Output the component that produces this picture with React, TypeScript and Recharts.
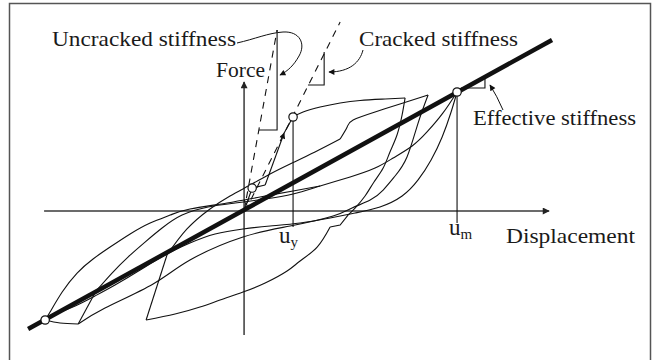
import { ComposedChart, Line, Scatter, XAxis, YAxis } from "recharts";

type Pt = [number, number];

// Displacement is normalised by u_m, force by the force reached at u_m.
const X_DOMAIN: [number, number] = [-1.146, 1.92];
const Y_DOMAIN: [number, number] = [-1.252, 1.773];

const forceAxis: Pt[] = [[0, -1.042], [0, 1.084]];
const displacementAxis: Pt[] = [[-0.939, 0], [1.432, 0]];

// first cycle: origin -> cracking -> yield
const toCracking: Pt[] = [[0, 0], [0.038, 0.193], [0.099, 0.218]];
const toYieldArrow: Pt[] = [[0.099, 0.218], [0.188, 0.655]];
const toYield: Pt[] = [[0.188, 0.655], [0.23, 0.79]];
const backToOrigin: Pt[] = [[0.014, 0.118], [0.008, 0.055]];

// yield -> first positive peak
const loadP1: Pt[] = [
  [0.23, 0.79], [0.277, 0.832], [0.357, 0.874], [0.451, 0.908],
  [0.545, 0.929], [0.662, 0.941], [0.756, 0.95],
];

// first positive peak -> first negative peak
const unloadP1a: Pt[] = [
  [0.756, 0.95], [0.742, 0.807], [0.718, 0.639], [0.685, 0.496], [0.653, 0.361],
  [0.61, 0.244], [0.568, 0.126], [0.521, 0.025], [0.488, -0.034],
];
const unloadP1b: Pt[] = [[0.488, -0.034], [0.451, -0.118], [0.404, -0.134]];
const unloadP1c: Pt[] = [
  [0.404, -0.134], [0.343, -0.303], [0.263, -0.42], [0.202, -0.504], [0.099, -0.605],
  [-0.005, -0.681], [-0.113, -0.748], [-0.207, -0.807], [-0.324, -0.866], [-0.46, -0.916],
];

// first negative peak -> second positive peak
const reloadN1a: Pt[] = [[-0.46, -0.916], [-0.362, -0.37]];
const reloadN1b: Pt[] = [
  [-0.362, -0.37], [-0.268, -0.151], [-0.16, 0.017], [-0.066, 0.126], [0.028, 0.218],
  [0.122, 0.311], [0.216, 0.395], [0.333, 0.496], [0.451, 0.605],
];
const reloadN1c: Pt[] = [
  [0.451, 0.605], [0.484, 0.706], [0.512, 0.765], [0.615, 0.832], [0.732, 0.899], [0.864, 0.975],
];

// second positive peak -> second negative peak
const unloadP2: Pt[] = [
  [0.864, 0.975], [0.817, 0.739], [0.765, 0.454], [0.709, 0.294], [0.653, 0.176],
  [0.592, 0.092], [0.507, 0.025], [0.418, -0.042], [0.216, -0.126], [-0.005, -0.218],
  [-0.254, -0.412], [-0.427, -0.613], [-0.653, -0.815], [-0.779, -0.95],
];

// second negative peak -> maximum displacement u_m
const reloadN2a: Pt[] = [[-0.779, -0.95], [-0.695, -0.672]];
const reloadN2b: Pt[] = [
  [-0.695, -0.672], [-0.62, -0.521], [-0.545, -0.387], [-0.465, -0.261], [-0.385, -0.143],
  [-0.291, -0.034], [-0.169, 0.034], [-0.042, 0.067], [0.099, 0.101], [0.23, 0.143],
  [0.357, 0.21], [0.498, 0.286], [0.615, 0.361], [0.7, 0.445], [0.789, 0.546],
  [0.859, 0.664], [0.934, 0.824], [1, 1],
];

// u_m -> minimum displacement
const unloadP3: Pt[] = [
  [1, 1], [0.972, 0.832], [0.93, 0.622], [0.878, 0.429], [0.817, 0.261], [0.742, 0.126],
  [0.638, 0.034], [0.521, -0.017], [0.404, -0.059], [0.263, -0.101], [0.122, -0.126],
  [-0.005, -0.151], [-0.136, -0.193], [-0.254, -0.269], [-0.371, -0.37], [-0.488, -0.496],
  [-0.606, -0.622], [-0.7, -0.714], [-0.793, -0.798], [-0.873, -0.857], [-0.934, -0.916],
];
const troughN3N2: Pt[] = [[-0.934, -0.916], [-0.864, -0.941], [-0.779, -0.95]];

// last reloading branch from the minimum
const reloadN3: Pt[] = [
  [-0.934, -0.916], [-0.911, -0.849], [-0.854, -0.681], [-0.784, -0.521], [-0.709, -0.403],
  [-0.629, -0.303], [-0.535, -0.193], [-0.441, -0.101], [-0.347, -0.034], [-0.254, 0.017],
  [-0.08, 0.067], [0.075, 0.118], [0.23, 0.168], [0.357, 0.21],
];

// stiffness lines and their slope triangles
const effectiveStiffness: Pt[] = [[-1.014, -0.992], [1.446, 1.437]];
const uncrackedStiffness: Pt[] = [[0, 0], [0.155, 1.521]];
const uncrackedTriangle: Pt[] = [[0.155, 1.521], [0.155, 0.681], [0.07, 0.681]];
const crackedStiffness: Pt[] = [[0.005, 0], [0.451, 1.588]];
const crackedTriangle: Pt[] = [[0.376, 1.336], [0.376, 1.059], [0.3, 1.059]];
const effectiveTriangle: Pt[] = [[1.019, 1.034], [1.131, 1.034], [1.131, 1.126]];

const yieldDrop: Pt[] = [[0.23, 0.79], [0.23, -0.134]];
const peakDrop: Pt[] = [[1, 1], [1, -0.101]];

const markedPoints: Pt[] = [[0.038, 0.193], [0.23, 0.79], [1, 1], [-0.934, -0.916]];

const toRows = (pts: Pt[]) => pts.map(([x, y]) => ({ x, y }));

type Series = {
  id: string;
  pts: Pt[];
  curve?: "linear" | "natural";
  width?: number;
  dash?: string;
  color?: string;
  marker?: string;
};

const series: Series[] = [
  { id: "uncracked", pts: uncrackedStiffness, dash: "7 6" },
  { id: "cracked", pts: crackedStiffness, dash: "7 6" },
  { id: "uncrackedTri", pts: uncrackedTriangle },
  { id: "crackedTri", pts: crackedTriangle },
  { id: "effectiveTri", pts: effectiveTriangle },
  { id: "forceAxis", pts: forceAxis, color: "#3a3a3a", width: 1.5, marker: "url(#axisHead)" },
  { id: "dispAxis", pts: displacementAxis, color: "#3a3a3a", width: 1.5, marker: "url(#axisHead)" },
  { id: "yieldDrop", pts: yieldDrop },
  { id: "peakDrop", pts: peakDrop },
  { id: "toCracking", pts: toCracking },
  { id: "toYieldArrow", pts: toYieldArrow, marker: "url(#pathHead)" },
  { id: "toYield", pts: toYield },
  { id: "backToOrigin", pts: backToOrigin, color: "none", marker: "url(#openHead)" },
  { id: "loadP1", pts: loadP1, curve: "natural" },
  { id: "unloadP1a", pts: unloadP1a, curve: "natural" },
  { id: "unloadP1b", pts: unloadP1b },
  { id: "unloadP1c", pts: unloadP1c, curve: "natural" },
  { id: "reloadN1a", pts: reloadN1a },
  { id: "reloadN1b", pts: reloadN1b, curve: "natural" },
  { id: "reloadN1c", pts: reloadN1c, curve: "natural" },
  { id: "unloadP2", pts: unloadP2, curve: "natural" },
  { id: "reloadN2a", pts: reloadN2a },
  { id: "reloadN2b", pts: reloadN2b, curve: "natural" },
  { id: "unloadP3", pts: unloadP3, curve: "natural" },
  { id: "troughN3N2", pts: troughN3N2, curve: "natural" },
  { id: "reloadN3", pts: reloadN3, curve: "natural" },
  { id: "effective", pts: effectiveStiffness, width: 4.5 },
];

const SERIF = "Liberation Serif";

const OpenCircle = (p: any) => (
  <circle cx={p.cx} cy={p.cy} r={4.2} fill="#fff" stroke="#111" strokeWidth={1.2} />
);

function Caption({ x, y, w, children }: { x: number; y: number; w: number; children: string }) {
  return (
    <text x={x} y={y} textLength={w} lengthAdjust="spacingAndGlyphs"
      fontFamily={SERIF} fontSize={21} fill="#1a1a1a">
      {children}
    </text>
  );
}

export default function App() {
  return (
    <div style={{ position: "absolute", left: 0, top: 0, width: 653, height: 360, background: "#fff" }}>
      <ComposedChart width={653} height={360} margin={{ top: 0, right: 0, bottom: 0, left: 0 }}>
        <XAxis type="number" dataKey="x" domain={X_DOMAIN} allowDataOverflow hide />
        <YAxis type="number" dataKey="y" domain={Y_DOMAIN} allowDataOverflow hide />
        {series.map((s) => (
          <Line
            key={s.id}
            data={toRows(s.pts)}
            dataKey="y"
            type={s.curve ?? "linear"}
            stroke={s.color ?? "#111"}
            strokeWidth={s.width ?? 1.1}
            strokeDasharray={s.dash}
            markerEnd={s.marker}
            dot={false}
            activeDot={false}
            isAnimationActive={false}
          />
        ))}
        <Scatter data={toRows(markedPoints)} dataKey="y" shape={OpenCircle} isAnimationActive={false} />
      </ComposedChart>

      <svg
        width={653}
        height={360}
        style={{ position: "absolute", left: 0, top: 0, pointerEvents: "none" }}
      >
        <defs>
          <marker id="axisHead" viewBox="0 0 10 10" refX="9" refY="5" markerWidth="10" markerHeight="7"
            markerUnits="userSpaceOnUse" orient="auto">
            <path d="M0,0 L10,5 L0,10 z" fill="#222" />
          </marker>
          <marker id="pathHead" viewBox="0 0 10 10" refX="9" refY="5" markerWidth="10" markerHeight="6"
            markerUnits="userSpaceOnUse" orient="auto">
            <path d="M0,0 L10,5 L0,10 z" fill="#111" />
          </marker>
          <marker id="noteHead" viewBox="0 0 10 10" refX="9" refY="5" markerWidth="9" markerHeight="6"
            markerUnits="userSpaceOnUse" orient="auto">
            <path d="M0,0 L10,5 L0,10 z" fill="#111" />
          </marker>
          <marker id="openHead" viewBox="0 0 10 10" refX="9" refY="5" markerWidth="6" markerHeight="6"
            markerUnits="userSpaceOnUse" orient="auto">
            <path d="M1,1 L9,5 L1,9" fill="none" stroke="#111" strokeWidth={1.5} />
          </marker>
        </defs>

        <rect x={9.5} y={3.5} width={641} height={370} fill="none" stroke="#555" strokeWidth={1.5} />

        <path d="M237,43 C255,39 268,33 283,32 C300,31 306,44 299,56 C294,65 288,71 280,75"
          fill="none" stroke="#111" strokeWidth={1} markerEnd="url(#noteHead)" />
        <path d="M363,50 C360,62 350,72 329,72" fill="none" stroke="#111" strokeWidth={1}
          markerEnd="url(#noteHead)" />
        <path d="M503,110 Q497,96 490,85" fill="none" stroke="#111" strokeWidth={1}
          markerEnd="url(#noteHead)" />

        <Caption x={52} y={46} w={184}>Uncracked stiffness</Caption>
        <Caption x={216} y={77} w={49}>Force</Caption>
        <Caption x={359} y={46} w={159}>Cracked stiffness</Caption>
        <Caption x={473} y={125} w={163}>Effective stiffness</Caption>
        <Caption x={506} y={243} w={129}>Displacement</Caption>
        <text x={449} y={235} fontFamily={SERIF} fontSize={23} fill="#1a1a1a">
          u<tspan fontSize={15} dy={4}>m</tspan>
        </text>
        <text x={279} y={243} fontFamily={SERIF} fontSize={23} fill="#1a1a1a">
          u<tspan fontSize={15} dy={4}>y</tspan>
        </text>
      </svg>
    </div>
  );
}
